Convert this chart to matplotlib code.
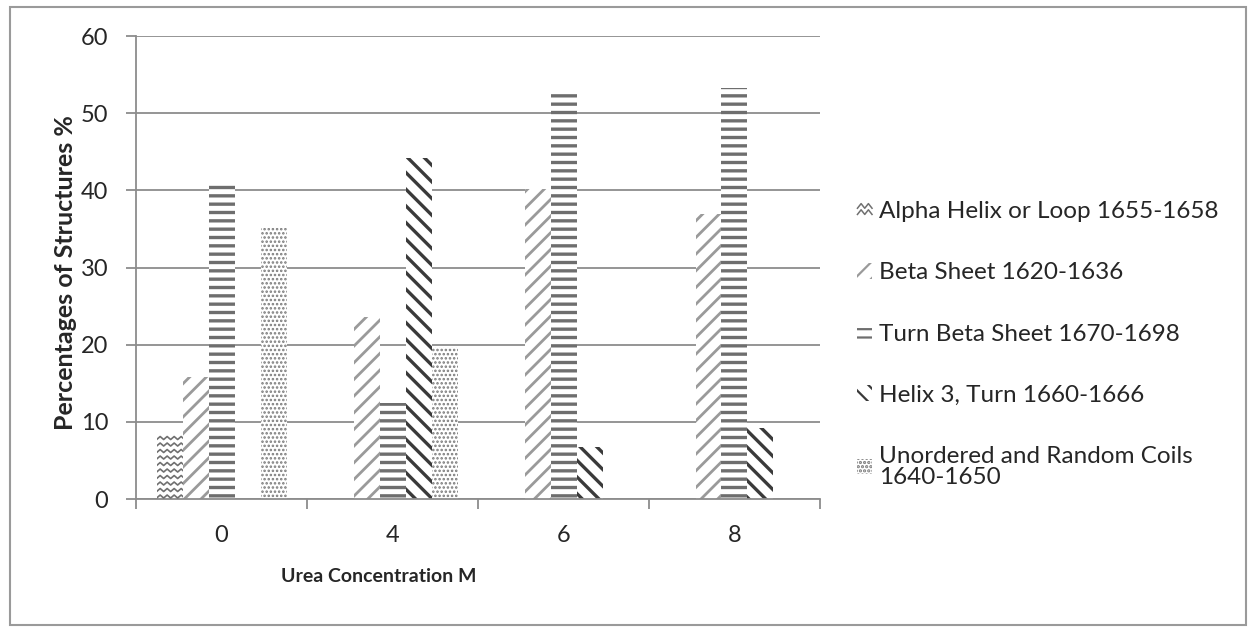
import numpy as np
import matplotlib
matplotlib.use("Agg")
import matplotlib.pyplot as plt
from matplotlib.lines import Line2D
from matplotlib.patches import Patch, Rectangle
from matplotlib.legend_handler import HandlerBase

plt.rcParams['font.family'] = ['Lato', 'DejaVu Sans']

# --- données ---
concentrations = ["0", "4", "6", "8"]
alpha_helix = [8.5, 0, 0, 0]
beta_sheet = [15.8, 23.6, 40.2, 36.9]
turn_beta = [40.7, 12.4, 52.9, 53.2]
helix3_turn = [0, 44.2, 6.8, 9.2]
random_coils = [35.1, 19.7, 0, 0]

labels = ["Alpha Helix or Loop 1655-1658",
          "Beta Sheet 1620-1636",
          "Turn Beta Sheet 1670-1698",
          "Helix 3, Turn 1660-1666",
          "Unordered and Random Coils\n1640-1650"]
series = [alpha_helix, beta_sheet, turn_beta, helix3_turn, random_coils]

# style de chaque série : (hachure, couleur, épaisseur)
styles = [(None, '#707070', 1.2),
          ('//', '#9a9a9a', 2.0),
          ('--', '#6e6e6e', 2.4),
          ('\\\\', '#3a3a3a', 2.4),
          ('....', '#7a7a7a', 1.2)]

fig = plt.figure(figsize=(12.49, 6.32), dpi=100)
ax = fig.add_axes([0.109, 0.2104, 0.5475, 0.7326])

x = np.arange(len(concentrations))
largeur = 0.152
ax.set_xlim(-0.5, len(concentrations) - 0.5)
ax.set_ylim(0, 60)


def zigzag(ax, bar, color, pas=3.5, amp=3.0, ecart=6.5):
    """Motif en zigzag (vagues) dessiné à la main dans la barre."""
    x0, y0 = bar.get_x(), bar.get_y()
    w, h = bar.get_width(), bar.get_height()
    if h <= 0:
        return
    px0, py0 = ax.transData.transform((x0, y0))
    px1, py1 = ax.transData.transform((x0 + w, y0 + h))
    xs = np.arange(px0 - 2 * pas, px1 + 2 * pas, pas)
    decal = np.where(np.arange(len(xs)) % 2 == 0, 0.0, amp)
    inv = ax.transData.inverted()
    for yb in np.arange(py0 + 1, py1 - 2, ecart):
        pts = inv.transform(np.column_stack([xs, yb + decal]))
        ligne = Line2D(pts[:, 0], pts[:, 1], color=color, lw=1.2, zorder=3)
        ax.add_line(ligne)
        ligne.set_clip_path(bar)


bars_par_serie = []
for i, (vals, (hatch, col, lw)) in enumerate(zip(series, styles)):
    with plt.rc_context({'hatch.linewidth': lw, 'hatch.color': col}):
        bars = ax.bar(x + (i - 2) * largeur, vals, largeur,
                      facecolor='white', edgecolor=col, linewidth=0,
                      hatch=hatch, zorder=2)
    bars_par_serie.append(bars)

for b in bars_par_serie[0]:
    zigzag(ax, b, styles[0][1])

# axes et grille
ax.yaxis.grid(True, color='#8c8c8c', linewidth=1.3, zorder=0)
ax.set_axisbelow(True)
for s in ['top', 'right']:
    ax.spines[s].set_visible(False)
for s in ['left', 'bottom']:
    ax.spines[s].set_color('#8c8c8c')
    ax.spines[s].set_linewidth(1.3)

ax.set_yticks(np.arange(0, 61, 10))
ax.tick_params(axis='y', length=7, width=1.3, color='#8c8c8c',
               labelsize=17, labelcolor='#262626', pad=13)
ax.set_xticks(x)
ax.set_xticklabels(concentrations)
ax.tick_params(axis='x', which='major', length=0, labelsize=17,
               labelcolor='#262626', pad=19)
ax.set_xticks(np.arange(-0.5, len(concentrations)), minor=True)
ax.tick_params(axis='x', which='minor', length=7, width=1.3, color='#8c8c8c')

ax.set_ylabel("Percentages of Structures %", fontsize=18, fontweight='bold',
              color='#262626')
ax.yaxis.set_label_coords(-0.086, 0.49)
ax.set_xlabel("Urea Concentration M", fontsize=14, fontweight='bold',
              color='#262626')
ax.xaxis.set_label_coords(0.355, -0.15)


class HandlerZigzag(HandlerBase):
    def create_artists(self, legend, orig_handle, xd, yd, width, height,
                       fontsize, trans):
        xs = np.linspace(0, width, 5) - xd
        ys = np.array([0.2, 0.5, 0.2, 0.5, 0.2]) * height - yd
        l1 = Line2D(xs, ys, color='#707070', lw=1.1, transform=trans)
        l2 = Line2D(xs, ys + 0.4 * height, color='#707070', lw=1.1,
                    transform=trans)
        return [l1, l2]


poignees = [Line2D([], [])]
for hatch, col, lw in styles[1:]:
    poignees.append(Patch(facecolor='white', edgecolor=col, linewidth=0,
                          hatch=hatch))

with plt.rc_context({'hatch.linewidth': 1.6}):
    leg = fig.legend(poignees, labels, loc='upper left',
                     bbox_to_anchor=(0.669, 0.716), frameon=False,
                     fontsize=17.5, handlelength=0.6, handleheight=0.6,
                     handletextpad=0.3, labelspacing=1.65,
                     handler_map={Line2D: HandlerZigzag()})
for t in leg.get_texts():
    t.set_color('#262626')
    t.set_linespacing(1.0)

# cadre autour de la figure
fig.patches.append(Rectangle((10 / 1249, 7 / 632), 1236 / 1249, 618 / 632,
                             transform=fig.transFigure, fill=False,
                             edgecolor='#9a9a9a', linewidth=1.5))

fig.savefig("out.png", dpi=100)
